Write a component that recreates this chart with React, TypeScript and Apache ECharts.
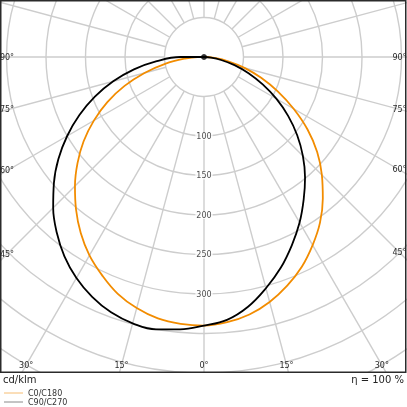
import React, { useEffect, useRef } from "react";
import * as echarts from "echarts";

// Intensity (cd/klm) per gamma angle
const gammas = [0, 5, 10, 15, 20, 25, 30, 35, 40, 45, 50, 55, 60, 65, 70, 75, 80, 85, 90];
const c0 = [340, 337, 331, 321, 308, 293, 275, 256, 234, 211, 187, 160, 131, 103, 77, 53, 31, 13, 2]; // right, orange
const c180 = [340, 339, 336, 329, 319, 305, 290, 272, 252, 231, 209, 186, 161, 135, 107, 78, 50, 25, 8]; // left, orange
const c90 = [340, 334, 321, 303, 284, 263, 242, 220, 199, 177, 154, 130, 106, 82, 60, 40, 22, 9, 0]; // right, black
const c270 = [340, 346, 350, 349, 344, 335, 323, 308, 290, 270, 248, 225, 200, 174, 147, 119, 90, 60, 30]; // left, black

const radiusLabels = [100, 150, 200, 250, 300];
const angleLabels = [0, 15, 30, 45, 60, 75, 90];
const gridAngles: number[] = [];
for (let a = 0; a < 360; a += 15) gridAngles.push(a);

const seriesNames = ["C0/C180", "C90/C270"];
const curveColors = ["#f28c00", "#000000"];
const legendColors = ["#f6bd72", "#8a8a8a"];

const CX = 204;
const CY = 57;
const PX_PER_UNIT = 0.79;
const RMAX = 500;

function buildCurve(left: number[], right: number[]) {
  const d: number[][] = [[0, 90]];
  for (let i = gammas.length - 1; i >= 0; i--) d.push([left[i], gammas[i]]);
  for (let i = 1; i < gammas.length; i++) d.push([right[i], 360 - gammas[i]]);
  d.push([0, 270]);
  return d;
}

export default function App() {
  const ref = useRef<HTMLDivElement>(null);
  useEffect(() => {
    if (!ref.current) return;
    const chart = echarts.init(ref.current, null, { renderer: "svg" });
    const font = "DejaVu Sans";

    const gridSeries = gridAngles.map((a) => ({
      type: "line",
      coordinateSystem: "polar",
      silent: true,
      symbol: "none",
      z: 1,
      lineStyle: { color: "#cdcdcd", width: 1.4 },
      data: [
        [50, a],
        [RMAX, a],
      ],
    }));

    // angle labels where 15° rays meet the inner box
    const graphics: any[] = [];
    const xL = 7,
      xR = 399.5,
      yB = 365;
    angleLabels.forEach((g) => {
      const rad = (g * Math.PI) / 180;
      const sides = g === 0 ? [1] : [-1, 1];
      sides.forEach((s) => {
        const sx = Math.sin(rad);
        const cy = Math.cos(rad);
        const lim = s < 0 ? CX - xL : xR - CX;
        let t = Infinity;
        if (sx > 1e-6) t = Math.min(t, lim / sx);
        if (cy > 1e-6) t = Math.min(t, (yB - CY) / cy);
        graphics.push({
          type: "text",
          z: 120,
          x: CX + s * sx * t,
          y: CY + cy * t,
          style: {
            text: g + "°",
            fill: "#2a2a2a",
            font: `8px "${font}"`,
            align: "center",
            verticalAlign: "middle",
          },
        });
      });
    });

    graphics.push(
      {
        type: "rect",
        z: 100,
        shape: { x: 0, y: 373, width: 407, height: 34 },
        style: { fill: "#ffffff" },
      },
      {
        type: "rect",
        z: 110,
        shape: { x: 0.75, y: 0.75, width: 405, height: 371.5 },
        style: { fill: "none", stroke: "#2b2b2b", lineWidth: 1.5 },
      },
      {
        type: "text",
        z: 120,
        x: 3,
        y: 379,
        style: {
          text: "cd/klm",
          fill: "#222",
          font: `10px "${font}"`,
          align: "left",
          verticalAlign: "middle",
        },
      },
      {
        type: "text",
        z: 120,
        x: 404,
        y: 379,
        style: {
          text: "η = 100 %",
          fill: "#222",
          font: `10px "${font}"`,
          align: "right",
          verticalAlign: "middle",
        },
      }
    );
    seriesNames.forEach((n, i) => {
      const y = 393 + i * 9;
      graphics.push(
        {
          type: "line",
          z: 120,
          shape: { x1: 4, y1: y, x2: 23, y2: y },
          style: { stroke: legendColors[i], lineWidth: 1 },
        },
        {
          type: "text",
          z: 120,
          x: 28,
          y: y,
          style: {
            text: n,
            fill: "#333",
            font: `8px "${font}"`,
            align: "left",
            verticalAlign: "middle",
          },
        }
      );
    });

    chart.setOption({
      animation: false,
      polar: { center: [CX, CY], radius: RMAX * PX_PER_UNIT },
      angleAxis: {
        type: "value",
        min: 0,
        max: 360,
        startAngle: 270,
        clockwise: true,
        axisLine: { show: false },
        axisTick: { show: false },
        axisLabel: { show: false },
        splitLine: { show: false },
      },
      radiusAxis: {
        type: "value",
        min: 0,
        max: RMAX,
        interval: 50,
        axisLine: { show: false },
        axisTick: { show: false },
        axisLabel: { show: false },
        splitLine: { show: true, lineStyle: { color: "#cdcdcd", width: 1.4 } },
      },
      graphic: graphics,
      series: [
        ...gridSeries,
        {
          type: "line",
          name: seriesNames[0],
          coordinateSystem: "polar",
          symbol: "none",
          smooth: 0.4,
          z: 5,
          lineStyle: { color: curveColors[0], width: 1.8 },
          data: buildCurve(c180, c0),
        },
        {
          type: "line",
          name: seriesNames[1],
          coordinateSystem: "polar",
          symbol: "none",
          smooth: 0.4,
          z: 6,
          lineStyle: { color: curveColors[1], width: 1.8 },
          data: buildCurve(c270, c90),
        },
        {
          type: "scatter",
          coordinateSystem: "polar",
          symbolSize: 6,
          z: 7,
          itemStyle: { color: "#000" },
          data: [[0, 0]],
        },
        {
          type: "scatter",
          coordinateSystem: "polar",
          symbolSize: 0,
          z: 8,
          silent: true,
          label: {
            show: true,
            position: "inside",
            formatter: (p: any) => String(p.value[0]),
            color: "#222",
            fontFamily: font,
            fontSize: 8,
            backgroundColor: "#ffffff",
            padding: [0, 1],
          },
          data: radiusLabels.map((r) => [r, 0]),
        },
      ],
    });
    return () => chart.dispose();
  }, []);

  return (
    <div
      ref={ref}
      style={{ position: "fixed", left: 0, top: 0, width: 407, height: 407 }}
    />
  );
}
